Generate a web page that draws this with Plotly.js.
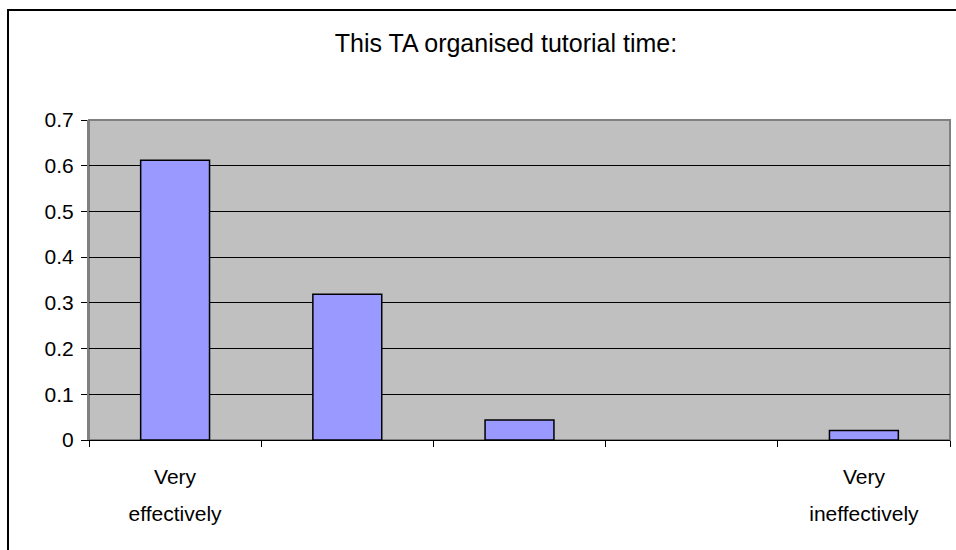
<!DOCTYPE html>
<html>
<head>
<meta charset="utf-8">
<script src="https://cdn.plot.ly/plotly-3.0.1.min.js"></script>
<style>
html,body{margin:0;padding:0;background:#fff;overflow:hidden;}
#chart{width:956px;height:550px;}
#frame{position:absolute;left:7px;top:9px;width:960px;height:560px;border:2px solid #000;pointer-events:none;}
</style>
</head>
<body>
<div id="chart"></div>
<div id="frame"></div>
<script>
const labelLine1 = ["Very", "", "", "", "Very"];
const labelLine2 = ["effectively", "", "", "", "ineffectively"];
const positions = [0, 1, 2, 3, 4];
const values = [0.612, 0.319, 0.044, 0, 0.021];
const yTicks = [0, 0.1, 0.2, 0.3, 0.4, 0.5, 0.6, 0.7];
const yTickText = ["0", "0.1", "0.2", "0.3", "0.4", "0.5", "0.6", "0.7"];
const chartTitle = "This TA organised tutorial time:";

const trace = {
  type: "bar",
  x: positions,
  y: values,
  width: 0.4,
  marker: {color: "#9999FF", line: {color: "#000000", width: values.map(v => v === 0 ? 0 : 1.5)}},
  hoverinfo: "skip"
};
const labelTrace = {
  type: "scatter", mode: "none", x: positions, y: values,
  xaxis: "x2", yaxis: "y", hoverinfo: "skip", showlegend: false
};

const fontFam = "Liberation Sans, Arial, sans-serif";
const layout = {
  width: 956, height: 550,
  margin: {l: 89, r: 6, t: 120, b: 110},
  paper_bgcolor: "#ffffff",
  plot_bgcolor: "#C0C0C0",
  font: {family: fontFam, color: "#000", size: 20},
  title: {text: chartTitle, x: 506/956, xref: "container", xanchor: "center", y: 1 - 43/550, yref: "container", yanchor: "middle", font: {size: 25}},
  showlegend: false,
  xaxis: {
    type: "linear", range: [-0.5, 4.5], fixedrange: true,
    tickmode: "array", tickvals: positions, ticktext: labelLine1,
    ticks: "", ticklabelstandoff: 18, showgrid: false, zeroline: false,
    showline: true, linecolor: "#000", linewidth: 1,
    tickfont: {size: 21},
    minor: {tick0: -0.5, dtick: 1, ticks: "outside", ticklen: 6, tickcolor: "#000", tickwidth: 1, showgrid: false}
  },
  xaxis2: {
    type: "linear", range: [-0.5, 4.5], fixedrange: true,
    overlaying: "x", anchor: "y", side: "bottom",
    tickmode: "array", tickvals: positions, ticktext: labelLine2,
    ticks: "", ticklabelstandoff: 59, showgrid: false, zeroline: false, showline: false,
    tickfont: {size: 21}
  },
  yaxis: {
    range: [0, 0.7], fixedrange: true,
    tickmode: "array", tickvals: yTicks, ticktext: yTickText,
    ticks: "outside", ticklen: 6, tickcolor: "#000", tickwidth: 1,
    ticklabelstandoff: 3,
    showgrid: true, gridcolor: "#000", gridwidth: 1,
    zeroline: false, showline: true, linecolor: "#808080", linewidth: 2,
    tickfont: {size: 21}
  },
  shapes: [
    {type: "rect", xref: "paper", yref: "paper", x0: 0, x1: 1, y0: 0, y1: 1, line: {color: "#808080", width: 2}, layer: "below"}
  ]
};

Plotly.newPlot("chart", [trace, labelTrace], layout, {displayModeBar: false, staticPlot: true});
</script>
</body>
</html>
